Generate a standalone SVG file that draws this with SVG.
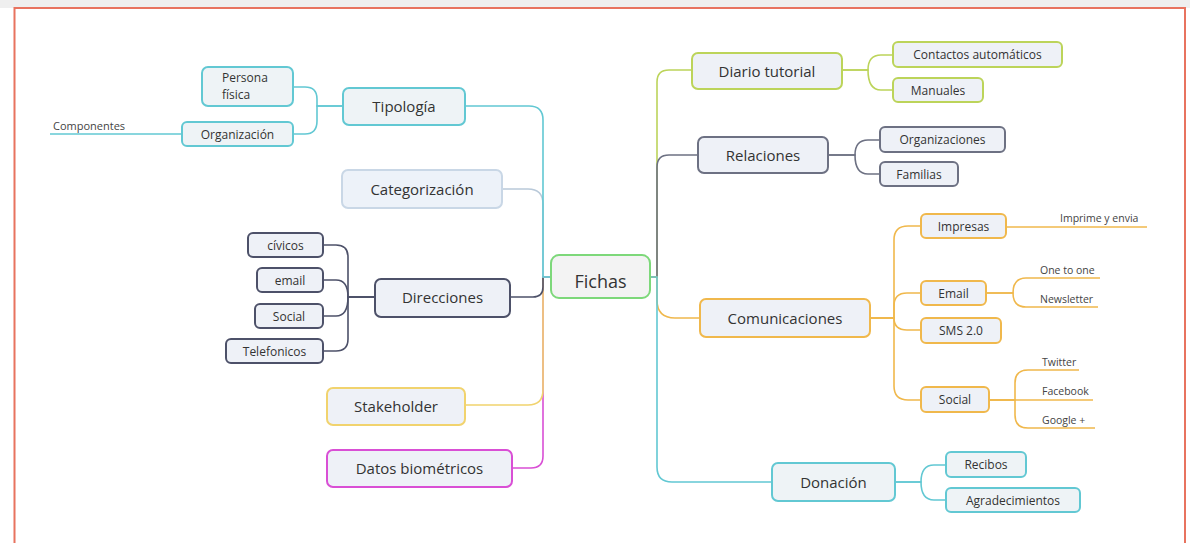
<svg xmlns="http://www.w3.org/2000/svg" width="1190" height="543" viewBox="0 0 1190 543">
<style>
text{font-family:"Open Sans","Noto Sans","DejaVu Sans",sans-serif;fill:#333;text-anchor:middle}
.b rect{stroke-width:2}
.l1{font-size:15px}
.l2{font-size:12px}
.lf{font-size:10.5px;text-anchor:start;fill:#444}
.cy rect{stroke:#62c8d3;fill:#eef3f6}
.dk rect{stroke:#4d5169;fill:#eef1f7}
.gr rect{stroke:#6d7183;fill:#eef1f7}
.yg rect{stroke:#bcd45a;fill:#eef1f7}
.or rect{stroke:#f0b84c;fill:#eef1f7}
.conn path{fill:none;stroke-width:1.6}
.c-cy{stroke:#62c8d3}.c-dk{stroke:#4d5169}.c-gr{stroke:#6d7183}.c-yg{stroke:#bcd45a}.c-or{stroke:#f0b84c}.c-ye{stroke:#f1d36e}.c-mg{stroke:#d94fd5}.c-lb{stroke:#b9c9d9}
</style>
<rect x="0" y="0" width="1190" height="543" fill="#ffffff"/>
<rect x="0" y="0" width="1190" height="8" fill="#efefef"/>
<path d="M14.5 543 V8 H1185 V543" fill="none" stroke="#e8735f" stroke-width="2"/>

<g id="connectors" class="conn">
  <!-- left trunk -->
  <path class="c-mg" d="M551 277 H543 V456 Q543 468 531 468 H512"/>
  <path class="c-ye" d="M551 277 H543 V390 Q543 405 528 405 H465"/>
  <path class="c-dk" d="M551 277 H543 V287 Q543 297 533 297 H510"/>
  <path class="c-lb" d="M551 277 H543 V204 Q543 189 528 189 H502"/>
  <path class="c-cy" d="M551 277 H543 V120 Q543 106 529 106 H465"/>
  <!-- right trunk -->
  <path class="c-yg" d="M650 277 H657 V82 Q657 70 669 70 H692"/>
  <path class="c-gr" d="M650 277 H657 V167 Q657 155 669 155 H698"/>
  <path class="c-or" d="M650 277 H657 V300 Q657 318 675 318 H700"/>
  <path class="c-cy" d="M650 277 H657 V467 Q657 482 672 482 H772"/>
  <!-- Tipología children -->
  <path class="c-cy" d="M343 106 H317 V99 Q317 87 305 87 H293"/>
  <path class="c-cy" d="M343 106 H317 V121 Q317 134 305 134 H293"/>
  <path class="c-cy" d="M182 134 H50"/>
  <!-- Direcciones children -->
  <path class="c-dk" d="M375 297 H348 V257 Q348 245 336 245 H323"/>
  <path class="c-dk" d="M375 297 H348 Q348 280 336 280 H323"/>
  <path class="c-dk" d="M375 297 H348 Q348 316 336 316 H323"/>
  <path class="c-dk" d="M375 297 H348 V339 Q348 351 336 351 H323"/>
  <!-- Diario children -->
  <path class="c-yg" d="M842 70 H868 Q868 55 881 55 H893"/>
  <path class="c-yg" d="M842 70 H868 Q868 90 881 90 H893"/>
  <!-- Relaciones children -->
  <path class="c-gr" d="M828 155 H855 Q855 140 868 140 H880"/>
  <path class="c-gr" d="M828 155 H855 Q855 174 868 174 H880"/>
  <!-- Comunicaciones children -->
  <path class="c-or" d="M870 318 H894 V240 Q894 226 908 226 H921"/>
  <path class="c-or" d="M870 318 H894 V306 Q894 293 907 293 H921"/>
  <path class="c-or" d="M870 318 H894 Q894 330 907 330 H921"/>
  <path class="c-or" d="M870 318 H894 V386 Q894 400 908 400 H921"/>
  <path class="c-or" d="M1006 227 H1147"/>
  <path class="c-or" d="M986 293 H1013 Q1013 278 1026 278 H1100"/>
  <path class="c-or" d="M986 293 H1013 Q1013 307 1026 307 H1098"/>
  <path class="c-or" d="M989 400 H1015 V383 Q1015 370 1028 370 H1079"/>
  <path class="c-or" d="M989 400 H1093"/>
  <path class="c-or" d="M989 400 H1015 V415 Q1015 428 1028 428 H1095"/>
  <!-- Donación children -->
  <path class="c-cy" d="M895 482 H921 Q921 465 934 465 H946"/>
  <path class="c-cy" d="M895 482 H921 Q921 500 934 500 H946"/>
</g>

<g id="fichas" class="b"><rect x="551" y="255" width="99" height="43" rx="8" fill="#f3f3f3" stroke="#7dd87a"/><text x="600.5" y="288" style="font-size:18px">Fichas</text></g>

<g id="tipologia" class="b cy"><rect x="343" y="88" width="122" height="37" rx="6"/><text class="l1" x="404" y="112">Tipología</text></g>
<g id="persona" class="b cy"><rect x="202" y="67" width="91" height="39" rx="6" fill="#eef4f3"/><text class="l2" x="222" y="82" style="text-anchor:start">Persona</text><text class="l2" x="222" y="99" style="text-anchor:start">física</text></g>
<g id="organizacion" class="b cy"><rect x="182" y="122" width="111" height="24" rx="5"/><text class="l2" x="237.5" y="138.5">Organización</text></g>
<g id="componentes"><text class="lf" x="53" y="130" style="font-size:11px">Componentes</text></g>
<g id="categorizacion" class="b"><rect x="342" y="170" width="160" height="38" rx="6" fill="#edf2f9" stroke="#c9d7e6"/><text class="l1" x="422" y="194.5">Categorización</text></g>
<g id="direcciones" class="b dk"><rect x="375" y="279" width="135" height="38" rx="6"/><text class="l1" x="442.5" y="303">Direcciones</text></g>
<g id="civicos" class="b dk"><rect x="248" y="233" width="75" height="24" rx="5"/><text class="l2" x="285.5" y="249.5">cívicos</text></g>
<g id="email-dir" class="b dk"><rect x="257" y="268" width="66" height="24" rx="5"/><text class="l2" x="290" y="284.5">email</text></g>
<g id="social-dir" class="b dk"><rect x="255" y="304" width="68" height="24" rx="5"/><text class="l2" x="289" y="320.5">Social</text></g>
<g id="telefonicos" class="b dk"><rect x="226" y="339" width="97" height="24" rx="5"/><text class="l2" x="274.5" y="355.5">Telefonicos</text></g>
<g id="stakeholder" class="b"><rect x="327" y="388" width="138" height="37" rx="6" fill="#eef1f7" stroke="#f1d36e"/><text class="l1" x="396" y="412">Stakeholder</text></g>
<g id="datos" class="b"><rect x="327" y="450" width="185" height="37" rx="6" fill="#eef1f7" stroke="#d94fd5"/><text class="l1" x="419.5" y="474">Datos biométricos</text></g>

<g id="diario" class="b yg"><rect x="692" y="53" width="150" height="36" rx="6"/><text class="l1" x="767" y="76.5">Diario tutorial</text></g>
<g id="contactos" class="b yg"><rect x="893" y="42" width="169" height="25" rx="5"/><text class="l2" x="977.5" y="59">Contactos automáticos</text></g>
<g id="manuales" class="b yg"><rect x="893" y="78" width="90" height="24" rx="5"/><text class="l2" x="938" y="94.5">Manuales</text></g>
<g id="relaciones" class="b gr"><rect x="698" y="137" width="130" height="36" rx="6"/><text class="l1" x="763" y="160.5">Relaciones</text></g>
<g id="organizaciones" class="b gr"><rect x="880" y="127" width="125" height="25" rx="5"/><text class="l2" x="942.5" y="144">Organizaciones</text></g>
<g id="familias" class="b gr"><rect x="880" y="162" width="78" height="24" rx="5"/><text class="l2" x="919" y="178.5">Familias</text></g>
<g id="comunicaciones" class="b or"><rect x="700" y="299" width="170" height="38" rx="6"/><text class="l1" x="785" y="323.5">Comunicaciones</text></g>
<g id="impresas" class="b or"><rect x="921" y="214" width="85" height="24" rx="5"/><text class="l2" x="963.5" y="230.5">Impresas</text></g>
<g id="imprime"><text class="lf" x="1060" y="222">Imprime y envia</text></g>
<g id="email" class="b or"><rect x="921" y="281" width="65" height="24" rx="5"/><text class="l2" x="953.5" y="297.5">Email</text></g>
<g id="onetoone"><text class="lf" x="1040" y="274">One to one</text></g>
<g id="newsletter"><text class="lf" x="1040" y="303">Newsletter</text></g>
<g id="sms" class="b or"><rect x="921" y="318" width="80" height="25" rx="5"/><text class="l2" x="961" y="335">SMS 2.0</text></g>
<g id="social" class="b or"><rect x="921" y="387" width="68" height="25" rx="5"/><text class="l2" x="955" y="404">Social</text></g>
<g id="twitter"><text class="lf" x="1042" y="366">Twitter</text></g>
<g id="facebook"><text class="lf" x="1042" y="395">Facebook</text></g>
<g id="google"><text class="lf" x="1042" y="424">Google +</text></g>
<g id="donacion" class="b cy"><rect x="772" y="463" width="123" height="38" rx="6"/><text class="l1" x="833.5" y="487.5">Donación</text></g>
<g id="recibos" class="b cy"><rect x="946" y="452" width="80" height="25" rx="5"/><text class="l2" x="986" y="469">Recibos</text></g>
<g id="agradecimientos" class="b cy"><rect x="946" y="488" width="134" height="24" rx="5"/><text class="l2" x="1013" y="504.5">Agradecimientos</text></g>
</svg>
